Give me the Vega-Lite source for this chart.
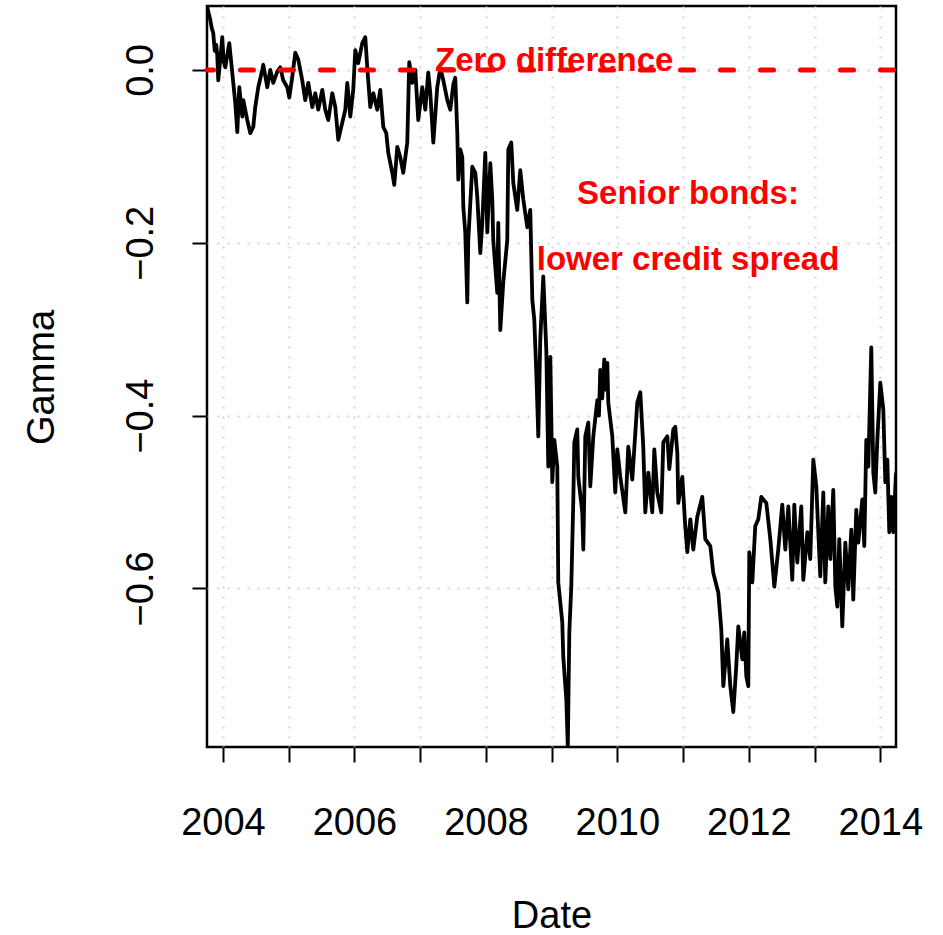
{
  "$schema": "https://vega.github.io/schema/vega-lite/v6.json",
  "width": 689,
  "height": 741,
  "autosize": "none",
  "padding": {"left": 207, "top": 6, "right": 47, "bottom": 188},
  "background": "white",
  "config": {
    "view": {"stroke": "black", "strokeWidth": 2.5},
    "font": "Liberation Sans",
    "axis": {
      "domain": false,
      "tickColor": "black",
      "tickWidth": 2,
      "tickSize": 15,
      "labelFont": "Liberation Sans",
      "labelFontSize": 38,
      "labelColor": "black",
      "titleFont": "Liberation Sans",
      "titleFontSize": 38,
      "titleFontWeight": "normal",
      "titleColor": "black",
      "grid": true,
      "gridColor": "#D3D3D3",
      "gridWidth": 2,
      "gridDash": [2, 8],
      "zindex": 1,
      "labelOverlap": false,
      "labelFlush": false,
      "labelBound": false
    }
  },
  "datasets": {
    "series": [
      {"date": 2003.757, "gamma": 0.074}, {"date": 2003.807, "gamma": 0.058}, {"date": 2003.830, "gamma": 0.048}, {"date": 2003.852, "gamma": 0.043}, {"date": 2003.875, "gamma": 0.022}, {"date": 2003.898, "gamma": 0.029}, {"date": 2003.913, "gamma": 0.017}, {"date": 2003.928, "gamma": -0.012}, {"date": 2003.959, "gamma": 0.012}, {"date": 2003.989, "gamma": 0.038}, {"date": 2004.010, "gamma": 0.010}, {"date": 2004.035, "gamma": 0.003}, {"date": 2004.065, "gamma": 0.017}, {"date": 2004.096, "gamma": 0.031}, {"date": 2004.141, "gamma": -0.003}, {"date": 2004.187, "gamma": -0.038}, {"date": 2004.218, "gamma": -0.072}, {"date": 2004.248, "gamma": -0.020}, {"date": 2004.294, "gamma": -0.054}, {"date": 2004.309, "gamma": -0.035}, {"date": 2004.370, "gamma": -0.058}, {"date": 2004.415, "gamma": -0.073}, {"date": 2004.461, "gamma": -0.066}, {"date": 2004.491, "gamma": -0.043}, {"date": 2004.537, "gamma": -0.020}, {"date": 2004.598, "gamma": 0.000}, {"date": 2004.613, "gamma": 0.006}, {"date": 2004.674, "gamma": -0.020}, {"date": 2004.720, "gamma": 0.000}, {"date": 2004.765, "gamma": -0.015}, {"date": 2004.826, "gamma": -0.002}, {"date": 2004.872, "gamma": 0.003}, {"date": 2004.917, "gamma": -0.012}, {"date": 2004.978, "gamma": -0.020}, {"date": 2005.009, "gamma": -0.032}, {"date": 2005.054, "gamma": -0.008}, {"date": 2005.100, "gamma": 0.020}, {"date": 2005.146, "gamma": 0.012}, {"date": 2005.206, "gamma": -0.012}, {"date": 2005.252, "gamma": -0.035}, {"date": 2005.298, "gamma": -0.015}, {"date": 2005.359, "gamma": -0.043}, {"date": 2005.404, "gamma": -0.027}, {"date": 2005.450, "gamma": -0.046}, {"date": 2005.511, "gamma": -0.023}, {"date": 2005.556, "gamma": -0.046}, {"date": 2005.602, "gamma": -0.058}, {"date": 2005.663, "gamma": -0.027}, {"date": 2005.709, "gamma": -0.043}, {"date": 2005.754, "gamma": -0.081}, {"date": 2005.815, "gamma": -0.061}, {"date": 2005.861, "gamma": -0.046}, {"date": 2005.891, "gamma": -0.015}, {"date": 2005.937, "gamma": -0.054}, {"date": 2005.982, "gamma": -0.023}, {"date": 2006.013, "gamma": 0.023}, {"date": 2006.058, "gamma": 0.008}, {"date": 2006.119, "gamma": 0.031}, {"date": 2006.165, "gamma": 0.038}, {"date": 2006.195, "gamma": 0.003}, {"date": 2006.241, "gamma": -0.043}, {"date": 2006.287, "gamma": -0.027}, {"date": 2006.348, "gamma": -0.046}, {"date": 2006.393, "gamma": -0.023}, {"date": 2006.439, "gamma": -0.066}, {"date": 2006.484, "gamma": -0.073}, {"date": 2006.515, "gamma": -0.096}, {"date": 2006.576, "gamma": -0.119}, {"date": 2006.606, "gamma": -0.133}, {"date": 2006.652, "gamma": -0.089}, {"date": 2006.697, "gamma": -0.101}, {"date": 2006.743, "gamma": -0.119}, {"date": 2006.804, "gamma": -0.084}, {"date": 2006.834, "gamma": 0.009}, {"date": 2006.880, "gamma": -0.015}, {"date": 2006.926, "gamma": 0.000}, {"date": 2006.971, "gamma": -0.058}, {"date": 2007.032, "gamma": -0.020}, {"date": 2007.078, "gamma": -0.046}, {"date": 2007.123, "gamma": -0.003}, {"date": 2007.154, "gamma": -0.027}, {"date": 2007.200, "gamma": -0.084}, {"date": 2007.260, "gamma": -0.020}, {"date": 2007.306, "gamma": 0.002}, {"date": 2007.352, "gamma": -0.012}, {"date": 2007.413, "gamma": -0.035}, {"date": 2007.458, "gamma": -0.046}, {"date": 2007.504, "gamma": -0.017}, {"date": 2007.534, "gamma": -0.009}, {"date": 2007.565, "gamma": -0.073}, {"date": 2007.580, "gamma": -0.127}, {"date": 2007.610, "gamma": -0.092}, {"date": 2007.641, "gamma": -0.101}, {"date": 2007.656, "gamma": -0.158}, {"date": 2007.686, "gamma": -0.188}, {"date": 2007.717, "gamma": -0.269}, {"date": 2007.732, "gamma": -0.197}, {"date": 2007.793, "gamma": -0.112}, {"date": 2007.839, "gamma": -0.119}, {"date": 2007.869, "gamma": -0.147}, {"date": 2007.915, "gamma": -0.212}, {"date": 2007.945, "gamma": -0.177}, {"date": 2007.960, "gamma": -0.150}, {"date": 2007.991, "gamma": -0.096}, {"date": 2008.021, "gamma": -0.188}, {"date": 2008.067, "gamma": -0.108}, {"date": 2008.097, "gamma": -0.150}, {"date": 2008.112, "gamma": -0.197}, {"date": 2008.173, "gamma": -0.258}, {"date": 2008.188, "gamma": -0.177}, {"date": 2008.219, "gamma": -0.301}, {"date": 2008.264, "gamma": -0.246}, {"date": 2008.325, "gamma": -0.197}, {"date": 2008.341, "gamma": -0.092}, {"date": 2008.386, "gamma": -0.084}, {"date": 2008.417, "gamma": -0.131}, {"date": 2008.477, "gamma": -0.162}, {"date": 2008.523, "gamma": -0.116}, {"date": 2008.569, "gamma": -0.150}, {"date": 2008.630, "gamma": -0.182}, {"date": 2008.675, "gamma": -0.162}, {"date": 2008.706, "gamma": -0.266}, {"date": 2008.736, "gamma": -0.289}, {"date": 2008.767, "gamma": -0.350}, {"date": 2008.797, "gamma": -0.424}, {"date": 2008.827, "gamma": -0.312}, {"date": 2008.873, "gamma": -0.239}, {"date": 2008.919, "gamma": -0.324}, {"date": 2008.949, "gamma": -0.459}, {"date": 2008.980, "gamma": -0.332}, {"date": 2009.010, "gamma": -0.477}, {"date": 2009.040, "gamma": -0.428}, {"date": 2009.086, "gamma": -0.459}, {"date": 2009.101, "gamma": -0.593}, {"date": 2009.162, "gamma": -0.639}, {"date": 2009.177, "gamma": -0.679}, {"date": 2009.223, "gamma": -0.728}, {"date": 2009.246, "gamma": -0.783}, {"date": 2009.269, "gamma": -0.651}, {"date": 2009.299, "gamma": -0.598}, {"date": 2009.330, "gamma": -0.497}, {"date": 2009.345, "gamma": -0.431}, {"date": 2009.390, "gamma": -0.416}, {"date": 2009.406, "gamma": -0.471}, {"date": 2009.466, "gamma": -0.512}, {"date": 2009.482, "gamma": -0.555}, {"date": 2009.512, "gamma": -0.424}, {"date": 2009.558, "gamma": -0.408}, {"date": 2009.588, "gamma": -0.482}, {"date": 2009.634, "gamma": -0.424}, {"date": 2009.695, "gamma": -0.382}, {"date": 2009.720, "gamma": -0.400}, {"date": 2009.740, "gamma": -0.347}, {"date": 2009.770, "gamma": -0.380}, {"date": 2009.801, "gamma": -0.335}, {"date": 2009.825, "gamma": -0.370}, {"date": 2009.847, "gamma": -0.339}, {"date": 2009.862, "gamma": -0.385}, {"date": 2009.923, "gamma": -0.424}, {"date": 2009.968, "gamma": -0.489}, {"date": 2009.999, "gamma": -0.439}, {"date": 2010.045, "gamma": -0.471}, {"date": 2010.121, "gamma": -0.512}, {"date": 2010.166, "gamma": -0.436}, {"date": 2010.227, "gamma": -0.474}, {"date": 2010.273, "gamma": -0.420}, {"date": 2010.303, "gamma": -0.385}, {"date": 2010.349, "gamma": -0.373}, {"date": 2010.394, "gamma": -0.436}, {"date": 2010.425, "gamma": -0.512}, {"date": 2010.471, "gamma": -0.466}, {"date": 2010.531, "gamma": -0.512}, {"date": 2010.562, "gamma": -0.439}, {"date": 2010.607, "gamma": -0.489}, {"date": 2010.668, "gamma": -0.512}, {"date": 2010.699, "gamma": -0.431}, {"date": 2010.760, "gamma": -0.424}, {"date": 2010.790, "gamma": -0.462}, {"date": 2010.851, "gamma": -0.416}, {"date": 2010.881, "gamma": -0.413}, {"date": 2010.912, "gamma": -0.443}, {"date": 2010.927, "gamma": -0.501}, {"date": 2010.988, "gamma": -0.471}, {"date": 2011.033, "gamma": -0.528}, {"date": 2011.064, "gamma": -0.558}, {"date": 2011.110, "gamma": -0.520}, {"date": 2011.155, "gamma": -0.555}, {"date": 2011.216, "gamma": -0.517}, {"date": 2011.292, "gamma": -0.494}, {"date": 2011.338, "gamma": -0.543}, {"date": 2011.414, "gamma": -0.551}, {"date": 2011.459, "gamma": -0.582}, {"date": 2011.536, "gamma": -0.605}, {"date": 2011.581, "gamma": -0.647}, {"date": 2011.612, "gamma": -0.713}, {"date": 2011.672, "gamma": -0.659}, {"date": 2011.718, "gamma": -0.713}, {"date": 2011.764, "gamma": -0.743}, {"date": 2011.809, "gamma": -0.690}, {"date": 2011.840, "gamma": -0.644}, {"date": 2011.901, "gamma": -0.682}, {"date": 2011.931, "gamma": -0.651}, {"date": 2011.962, "gamma": -0.702}, {"date": 2011.992, "gamma": -0.713}, {"date": 2012.007, "gamma": -0.558}, {"date": 2012.053, "gamma": -0.593}, {"date": 2012.098, "gamma": -0.528}, {"date": 2012.144, "gamma": -0.520}, {"date": 2012.190, "gamma": -0.494}, {"date": 2012.220, "gamma": -0.497}, {"date": 2012.266, "gamma": -0.501}, {"date": 2012.327, "gamma": -0.543}, {"date": 2012.388, "gamma": -0.598}, {"date": 2012.448, "gamma": -0.555}, {"date": 2012.509, "gamma": -0.503}, {"date": 2012.555, "gamma": -0.555}, {"date": 2012.601, "gamma": -0.505}, {"date": 2012.661, "gamma": -0.590}, {"date": 2012.692, "gamma": -0.503}, {"date": 2012.737, "gamma": -0.570}, {"date": 2012.798, "gamma": -0.505}, {"date": 2012.829, "gamma": -0.590}, {"date": 2012.890, "gamma": -0.535}, {"date": 2012.935, "gamma": -0.566}, {"date": 2012.981, "gamma": -0.451}, {"date": 2013.027, "gamma": -0.482}, {"date": 2013.057, "gamma": -0.535}, {"date": 2013.087, "gamma": -0.586}, {"date": 2013.133, "gamma": -0.489}, {"date": 2013.163, "gamma": -0.593}, {"date": 2013.209, "gamma": -0.505}, {"date": 2013.240, "gamma": -0.566}, {"date": 2013.285, "gamma": -0.486}, {"date": 2013.316, "gamma": -0.598}, {"date": 2013.346, "gamma": -0.621}, {"date": 2013.376, "gamma": -0.543}, {"date": 2013.422, "gamma": -0.644}, {"date": 2013.468, "gamma": -0.547}, {"date": 2013.513, "gamma": -0.601}, {"date": 2013.559, "gamma": -0.532}, {"date": 2013.589, "gamma": -0.613}, {"date": 2013.635, "gamma": -0.509}, {"date": 2013.666, "gamma": -0.547}, {"date": 2013.726, "gamma": -0.497}, {"date": 2013.757, "gamma": -0.551}, {"date": 2013.787, "gamma": -0.428}, {"date": 2013.818, "gamma": -0.459}, {"date": 2013.863, "gamma": -0.321}, {"date": 2013.894, "gamma": -0.466}, {"date": 2013.924, "gamma": -0.489}, {"date": 2013.955, "gamma": -0.428}, {"date": 2014.000, "gamma": -0.362}, {"date": 2014.046, "gamma": -0.393}, {"date": 2014.076, "gamma": -0.477}, {"date": 2014.107, "gamma": -0.451}, {"date": 2014.137, "gamma": -0.535}, {"date": 2014.168, "gamma": -0.494}, {"date": 2014.198, "gamma": -0.535}, {"date": 2014.239, "gamma": -0.466}
    ],
    "zero": [{"gamma": 0}],
    "notes": [
      {"date": 2009.040, "gamma": -0.001, "label": "Zero difference"},
      {"date": 2011.075, "gamma": -0.155, "label": "Senior bonds:"},
      {"date": 2011.075, "gamma": -0.232, "label": "lower credit spread"}
    ]
  },
  "layer": [
    {
      "data": {"name": "series"},
      "mark": {"type": "line", "color": "black", "strokeWidth": 3.8, "clip": true, "strokeJoin": "round"},
      "encoding": {
        "x": {
          "field": "date", "type": "quantitative",
          "scale": {"domain": [2003.757, 2014.239], "nice": false, "zero": false},
          "axis": {
            "title": "Date",
            "values": [2004, 2005, 2006, 2007, 2008, 2009, 2010, 2011, 2012, 2013, 2014],
            "labelExpr": "datum.value % 2 == 0 ? format(datum.value, 'd') : ''",
            "labelBaseline": "alphabetic",
            "labelPadding": 72,
            "titleBaseline": "alphabetic",
            "titleY": 180
          }
        },
        "y": {
          "field": "gamma", "type": "quantitative",
          "scale": {"domain": [-0.7835, 0.074], "nice": false, "zero": false},
          "axis": {
            "title": "Gamma",
            "values": [-0.6, -0.4, -0.2, 0],
            "format": ".1f",
            "labelAngle": -90,
            "labelAlign": "center",
            "labelBaseline": "alphabetic",
            "labelPadding": 40,
            "titleAngle": -90,
            "titleAlign": "center",
            "titleBaseline": "alphabetic",
            "titleX": -154,
            "titleY": 371
          }
        }
      }
    },
    {
      "data": {"name": "zero"},
      "mark": {"type": "rule", "color": "red", "strokeWidth": 5, "strokeDash": [13, 27], "strokeDashOffset": -2.5, "strokeCap": "round"},
      "encoding": {"y": {"field": "gamma", "type": "quantitative"}}
    },
    {
      "data": {"name": "notes"},
      "mark": {"type": "text", "color": "red", "font": "Liberation Sans", "fontSize": 33, "fontWeight": "bold", "align": "center", "baseline": "alphabetic"},
      "encoding": {
        "x": {"field": "date", "type": "quantitative"},
        "y": {"field": "gamma", "type": "quantitative"},
        "text": {"field": "label"}
      }
    }
  ]
}
